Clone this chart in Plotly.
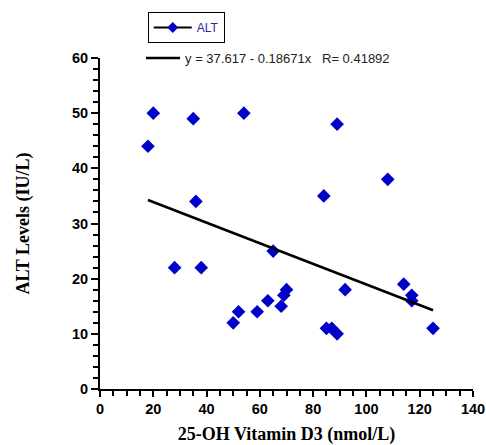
import plotly.graph_objects as go

vitd = [18, 20, 35, 36, 28, 38, 54, 89, 84, 108, 65, 50, 52, 59, 63, 68, 69, 70,
        85, 87, 89, 92, 114, 117, 117, 125]
alt = [44, 50, 49, 34, 22, 22, 50, 48, 35, 38, 25, 12, 14, 14, 16, 15, 17, 18,
       11, 11, 10, 18, 19, 17, 16, 11]
intercept = 37.617
slope = -0.18671
r_value = 0.41892

fit_x = [min(vitd), max(vitd)]
fit_y = [intercept + slope * v for v in fit_x]

blue = "#0000C8"
fig = go.Figure()
fig.add_trace(go.Scatter(x=vitd, y=alt, mode="markers", showlegend=False,
                         marker=dict(symbol="diamond", size=10.5, color=blue)))
fig.add_trace(go.Scatter(x=[None], y=[None], mode="lines+markers", name="ALT",
                         line=dict(color="black", width=2),
                         marker=dict(symbol="diamond", size=8.5, color=blue),
                         legend="legend"))
fig.add_trace(go.Scatter(x=fit_x, y=fit_y, mode="lines",
                         name=f"y = {intercept} - {abs(slope)}x   R= {r_value}",
                         line=dict(color="black", width=2.5), legend="legend2"))

tickfont = dict(family="Liberation Sans, Arial", size=14.5, color="black", weight="bold")
titlefont = dict(family="Liberation Serif, Times New Roman", size=18, color="black", weight="bold")
fig.update_layout(
    width=486, height=445,
    margin=dict(l=100, r=13, t=58, b=56),
    plot_bgcolor="white", paper_bgcolor="white",
    legend=dict(x=0.128, y=1.139, xanchor="left", yanchor="top",
                bordercolor="black", borderwidth=1,
                font=dict(family="Liberation Sans, Arial", size=12, color="#2a2aa0"),
                itemwidth=38, tracegroupgap=0),
    legend2=dict(x=0.11, y=1.045, xanchor="left", yanchor="top",
                 font=dict(family="Liberation Sans, Arial", size=13, color="#222222"),
                 itemwidth=34, bgcolor="rgba(0,0,0,0)"),
    xaxis=dict(range=[0, 140], tickvals=[0, 20, 40, 60, 80, 100, 120, 140],
               ticks="outside", ticklen=6, tickwidth=1.5, tickcolor="black",
               showline=True, linecolor="black", linewidth=2, showgrid=False,
               zeroline=False, tickfont=tickfont, automargin=False,
               ticklabeloverflow="allow",
               minor=dict(dtick=5, ticks="outside", ticklen=5, tickwidth=1.5, tickcolor="black", showgrid=False),
               title=dict(text="25-OH Vitamin D3 (nmol/L)", font=titlefont, standoff=11)),
    yaxis=dict(range=[0, 60], tickvals=[0, 10, 20, 30, 40, 50, 60],
               ticks="outside", ticklen=7, tickwidth=1.5, tickcolor="black",
               showline=True, linecolor="black", linewidth=2, showgrid=False,
               zeroline=False, tickfont=tickfont, automargin=False,
               ticklabeloverflow="allow",
               minor=dict(dtick=2, ticks="outside", ticklen=5, tickwidth=1.5, tickcolor="black", showgrid=False),
               title=dict(text="ALT Levels (IU/L)", font=titlefont, standoff=38)),
)
fig.write_html("out.html", config={"displayModeBar": False},
               post_script="document.body.style.margin='0';document.body.style.overflow='hidden';")
